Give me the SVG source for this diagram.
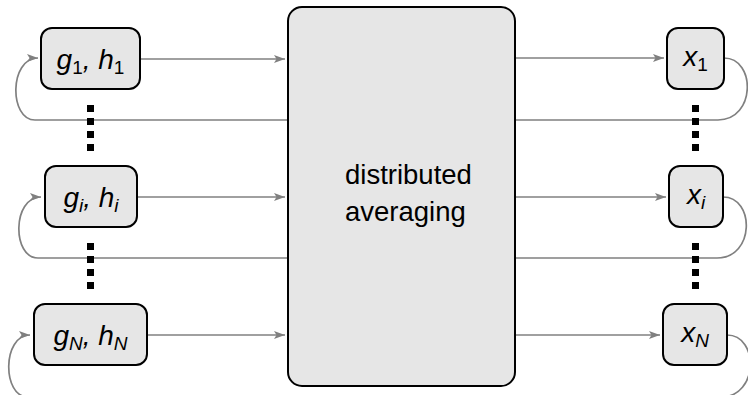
<svg xmlns="http://www.w3.org/2000/svg" width="748" height="395" viewBox="0 0 748 395">
<defs>
<marker id="arr" viewBox="0 0 11 8" refX="11" refY="4" markerWidth="11" markerHeight="8" markerUnits="userSpaceOnUse" orient="auto">
<path d="M0,0 L11,4 L0,8 L2.5,4 Z" fill="#808080"/>
</marker>
<style>
.box{fill:#e6e6e6;stroke:#000;stroke-width:2}
.con{fill:none;stroke:#808080;stroke-width:1.7}
.lbl{font-family:"Liberation Sans",Arial,sans-serif;font-size:28px;font-style:italic;fill:#000}
.sub{font-size:19px;font-style:normal}
.isub{font-size:19px}
.mid{font-family:"Liberation Sans",Arial,sans-serif;font-size:27.5px;fill:#000}
.dot{fill:#000}
</style>
</defs>
<rect width="748" height="395" fill="#fff"/>
<g id="connectors">
<path class="con" d="M141,59 L285,59" marker-end="url(#arr)"/>
<path class="con" d="M138,197 L285,197" marker-end="url(#arr)"/>
<path class="con" d="M148,335 L285,335" marker-end="url(#arr)"/>
<path class="con" d="M515,58 L664,58" marker-end="url(#arr)"/>
<path class="con" d="M515,197 L666,197" marker-end="url(#arr)"/>
<path class="con" d="M515,335 L660,335" marker-end="url(#arr)"/>
<path class="con" d="M288,120 L35,120 C9,120 9,58 38,58" marker-end="url(#arr)"/>
<path class="con" d="M288,258 L38,258 C12,258 12,197 41,197" marker-end="url(#arr)"/>
<path class="con" d="M288,397 L28,397 C2,397 2,335 30,335" marker-end="url(#arr)"/>
<path class="con" d="M724,58 C756,58 756,120 718,120 L515,120"/>
<path class="con" d="M723,197 C755,197 755,258 717,258 L515,258"/>
<path class="con" d="M727,335 C759,335 759,397 721,397 L515,397"/>
</g>
<g id="dots-left-1"><rect class="dot" x="87" y="105" width="7" height="7"/><rect class="dot" x="87" y="118" width="7" height="7"/><rect class="dot" x="87" y="131" width="7" height="7"/><rect class="dot" x="87" y="144" width="7" height="7"/></g>
<g id="dots-left-2"><rect class="dot" x="87" y="243" width="7" height="7"/><rect class="dot" x="87" y="256" width="7" height="7"/><rect class="dot" x="87" y="269" width="7" height="7"/><rect class="dot" x="87" y="282" width="7" height="7"/></g>
<g id="dots-right-1"><rect class="dot" x="692" y="105" width="7" height="7"/><rect class="dot" x="692" y="118" width="7" height="7"/><rect class="dot" x="692" y="131" width="7" height="7"/><rect class="dot" x="692" y="144" width="7" height="7"/></g>
<g id="dots-right-2"><rect class="dot" x="692" y="243" width="7" height="7"/><rect class="dot" x="692" y="256" width="7" height="7"/><rect class="dot" x="692" y="269" width="7" height="7"/><rect class="dot" x="692" y="282" width="7" height="7"/></g>
<g id="avg">
<rect class="box" x="288" y="7" width="227" height="379" rx="14"/>
<text class="mid" x="345" y="184">distributed</text>
<text class="mid" x="345" y="221">averaging</text>
</g>
<g id="g1">
<rect class="box" x="41" y="28" width="99" height="61" rx="11"/>
<text class="lbl" x="90.5" y="69" text-anchor="middle">g<tspan class="sub" dy="5">1</tspan><tspan dy="-5">, h</tspan><tspan class="sub" dy="5">1</tspan></text>
</g>
<g id="gi">
<rect class="box" x="45" y="166" width="92" height="61" rx="11"/>
<text class="lbl" x="91" y="207" text-anchor="middle">g<tspan class="isub" dy="5">i</tspan><tspan dy="-5">, h</tspan><tspan class="isub" dy="5">i</tspan></text>
</g>
<g id="gN">
<rect class="box" x="34" y="304" width="113" height="61" rx="11"/>
<text class="lbl" x="90.5" y="345" text-anchor="middle">g<tspan class="isub" dy="5">N</tspan><tspan dy="-5">, h</tspan><tspan class="isub" dy="5">N</tspan></text>
</g>
<g id="x1">
<rect class="box" x="667" y="28" width="57" height="61" rx="11"/>
<text class="lbl" x="695.5" y="66" text-anchor="middle">x<tspan class="sub" dy="5">1</tspan></text>
</g>
<g id="xi">
<rect class="box" x="669" y="166" width="54" height="61" rx="11"/>
<text class="lbl" x="696" y="204" text-anchor="middle">x<tspan class="isub" dy="5">i</tspan></text>
</g>
<g id="xN">
<rect class="box" x="663" y="304" width="64" height="61" rx="11"/>
<text class="lbl" x="695" y="342" text-anchor="middle">x<tspan class="isub" dy="5">N</tspan></text>
</g>
</svg>
